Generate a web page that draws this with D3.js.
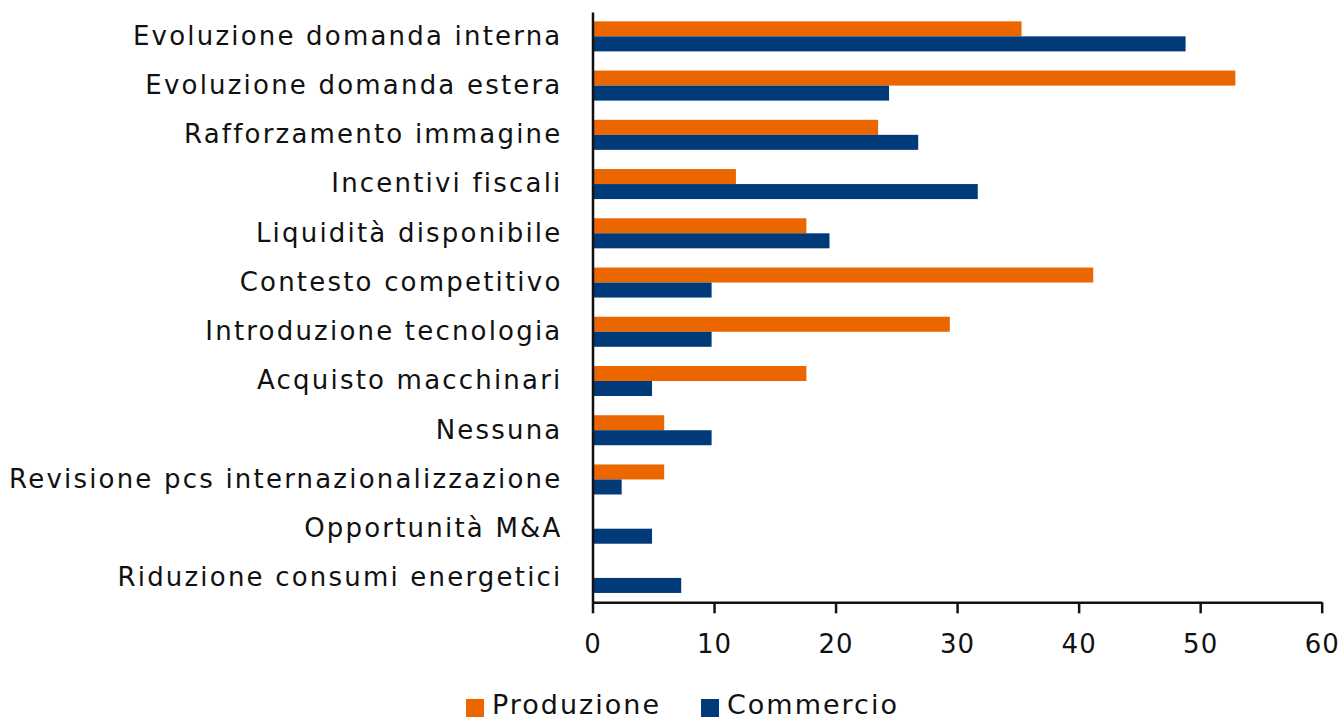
<!DOCTYPE html>
<html>
<head>
<meta charset="utf-8">
<script src="https://cdn.jsdelivr.net/npm/d3@7"></script>
<style>
  body { margin: 0; background: #fff; }
  svg text { font-family: "DejaVu Sans", sans-serif; fill: #111; }
</style>
</head>
<body>
<div id="chart"></div>
<script>
// data
var categories = [
  "Evoluzione domanda interna",
  "Evoluzione domanda estera",
  "Rafforzamento immagine",
  "Incentivi fiscali",
  "Liquidità disponibile",
  "Contesto competitivo",
  "Introduzione tecnologia",
  "Acquisto macchinari",
  "Nessuna",
  "Revisione pcs internazionalizzazione",
  "Opportunità M&A",
  "Riduzione consumi energetici"
];
var produzione = [35.3, 52.9, 23.5, 11.8, 17.6, 41.2, 29.4, 17.6, 5.9, 5.9, 0, 0];
var commercio  = [48.8, 24.4, 26.8, 31.7, 19.5, 9.8, 9.8, 4.9, 9.8, 2.4, 4.9, 7.3];
var seriesNames = ["Produzione", "Commercio"];
var xTicks = [0, 10, 20, 30, 40, 50, 60];

var colors = {"Produzione": "#EC6600", "Commercio": "#003A78"};

var width = 1344, height = 723;
var margin = {top: 12, right: 22, bottom: 121, left: 592.5};

var svg = d3.select("#chart")
  .append("svg")
    .attr("width", width)
    .attr("height", height);

var g = svg.append("g")
  .attr("transform", "translate(" + margin.left + "," + margin.top + ")");

var innerW = 1321.7 - margin.left,
    innerH = 602.3 - margin.top;

var x = d3.scaleLinear()
  .domain([0, 60])
  .range([0, innerW]);

var y = d3.scaleBand()
  .domain(categories)
  .range([0, innerH])
  .paddingInner(0.39)
  .paddingOuter(0.19);

var ySub = d3.scaleBand()
  .domain(seriesNames)
  .range([0, y.bandwidth()]);

var rows = categories.map(function(c, i) {
  return {cat: c, values: [
    {key: "Produzione", value: produzione[i]},
    {key: "Commercio", value: commercio[i]}
  ]};
});

// bars
g.selectAll(".row")
  .data(rows)
  .enter()
  .append("g")
    .attr("class", "row")
    .attr("transform", function(d) { return "translate(0," + y(d.cat) + ")"; })
  .selectAll("rect")
  .data(function(d) { return d.values.filter(function(v) { return v.value > 0; }); })
  .enter()
  .append("rect")
    .attr("x", 0)
    .attr("y", function(d) { return ySub(d.key); })
    .attr("width", function(d) { return x(d.value); })
    .attr("height", ySub.bandwidth())
    .attr("fill", function(d) { return colors[d.key]; });

// x axis
var xAxis = g.append("g")
  .attr("transform", "translate(0," + innerH + ")")
  .call(d3.axisBottom(x).tickValues(xTicks).tickSize(11).tickPadding(21).tickSizeOuter(0));
xAxis.select(".domain").attr("stroke", "#111").attr("stroke-width", 2.5);
xAxis.selectAll(".tick line").attr("stroke", "#111").attr("stroke-width", 2.5);
xAxis.selectAll("text")
  .style("font-size", "26px")
  .style("letter-spacing", "1px")
  .attr("fill", "#111")
  .style("font-family", "'DejaVu Sans', sans-serif");

// y axis line (no ticks)
var yAxis = g.append("g")
  .call(d3.axisLeft(y).tickSize(0).tickPadding(30));
yAxis.select(".domain").attr("stroke", "#111").attr("stroke-width", 2.5);
yAxis.selectAll("text")
  .style("font-size", "26px")
  .style("letter-spacing", "2.2px")
  .attr("fill", "#111")
  .style("font-family", "'DejaVu Sans', sans-serif");

// legend
var legendY = 705;
var legendItems = [
  {name: "Produzione", x: 466},
  {name: "Commercio", x: 701}
];
var legend = svg.append("g");
legendItems.forEach(function(it) {
  legend.append("rect")
    .attr("x", it.x)
    .attr("y", legendY - 6)
    .attr("width", 18)
    .attr("height", 18)
    .attr("fill", colors[it.name]);
  legend.append("text")
    .attr("x", it.x + 26)
    .attr("y", legendY)
    .attr("dy", "0.35em")
    .style("font-size", "27px")
    .style("letter-spacing", "2px")
    .text(it.name);
});
</script>
</body>
</html>
